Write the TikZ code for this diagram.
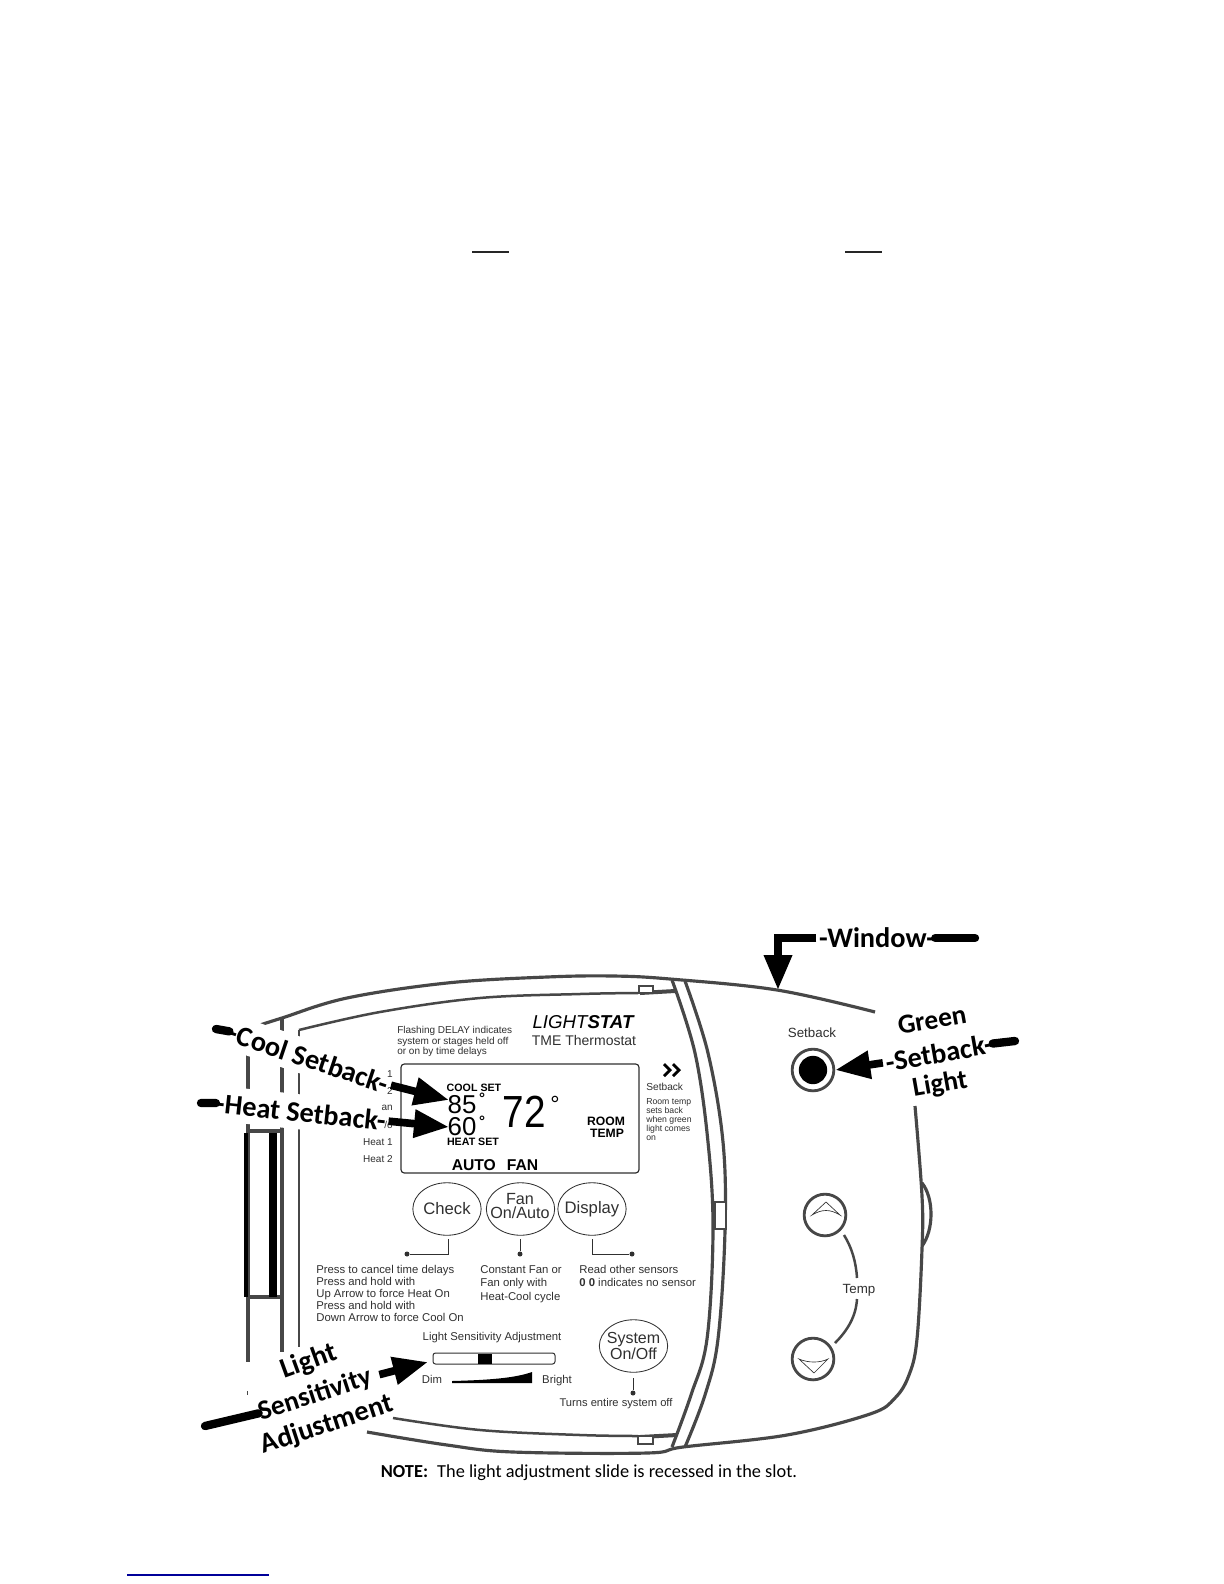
\documentclass[tikz,border=0pt]{standalone}
\usepackage{fontspec}
\setmainfont{Liberation Sans}
\newfontfamily\cali{Carlito}
\usetikzlibrary{shapes.geometric,arrows.meta}
\definecolor{outline}{HTML}{474747}
\definecolor{ink}{HTML}{303030}
\definecolor{linkblue}{HTML}{000099}
\newcommand{\fs}[2]{\fontsize{#1}{#2}\selectfont}
\tikzset{
  shell/.style={draw=outline,line width=1.9pt,line cap=butt},
  thinshell/.style={draw=outline,line width=1.5pt},
  label/.style={inner sep=0pt,text=ink,align=left},
  btn/.style={draw=ink,ellipse,line width=.5pt,inner sep=0pt,minimum width=41pt,minimum height=31.5pt},
  btntext/.style={inner sep=0pt,align=center,text=ink,font=\fs{10}{8.6}},
  roundbtn/.style={draw=outline,circle,line width=1.7pt,inner sep=0pt,minimum size=25pt,fill=white},
  lead/.style={draw=ink,line width=.6pt},
  leaddot/.style={fill=ink,circle,inner sep=0pt,minimum size=3pt},
  callout/.style={inner sep=0pt,fill=white,text=black,font=\cali\bfseries\fs{17}{19},minimum height=21pt},
  pointer/.style={draw=black,line width=4.6pt,shorten <=1.5pt,-{Triangle[length=21pt,width=16pt]}},
  tailbar/.style={draw=black,line width=5pt,line cap=round}
}
\begin{document}
\begin{tikzpicture}[x=0.6pt,y=-0.6pt]
\useasboundingbox (0,0) rectangle (1224,1584);
\fill[white] (0,0) rectangle (1224,1584);
% stray rules
\coordinate (r1a) at (472,252); \coordinate (r1b) at (509,252);
\coordinate (r2a) at (845,252); \coordinate (r2b) at (882,252);
\coordinate (r3a) at (127,1575); \coordinate (r3b) at (269,1575);
\draw[black!85,line width=1.3pt] (r1a)--(r1b) (r2a)--(r2b);
\draw[linkblue,line width=1pt] (r3a)--(r3b);
% housing
\draw[shell] plot[smooth,tension=.6] coordinates {(260,1025)(282,1018)(347,998)(447,983)(547,977)(613,976)(670,979)(777,990)(875,1012)};
\draw[thinshell] plot[smooth,tension=.6] coordinates {(299,1030)(380,1012)(480,998)(580,994)(638,993)};
\draw[outline,line width=2.4pt] (640,993)--(675,991);
\draw[thinshell,fill=white] (639,986) rectangle (653,993);
% dividers
\draw[shell] plot[smooth,tension=.6] coordinates {(672,980)(695,1053)(708,1142)(713,1231)(707,1339)(691,1395)(672,1447)};
\draw[shell] plot[smooth,tension=.6] coordinates {(685,981)(708,1053)(723,1142)(725,1231)(718,1339)(705,1395)(685,1447)};
\draw[thinshell,fill=white] (715,1202) rectangle (726,1229);
% right and bottom
\draw[shell] plot[smooth,tension=.6] coordinates {(915,1106)(922,1196)(922,1249)(917,1339)(909,1375)(895,1398)(870,1414)(787,1435)(683,1447)(647,1453)(513,1452)(447,1445)(367,1432)};
\draw[shell] (922,1183) .. controls (934,1198) and (934,1230) .. (922,1246);
\draw[thinshell] plot[smooth,tension=.6] coordinates {(393,1418)(480,1430)(580,1435)(638,1436)};
\draw[outline,line width=2.4pt] (640,1437)--(677,1435);
\draw[thinshell,fill=white] (638,1436) rectangle (653,1444);
% left rails
\draw[shell] (248,1040)--(248,1362);
\draw[shell] (282,1018)--(282,1352);
\draw[thinshell] (299,1030)--(299,1347);
\draw[shell] (246,1131)--(282,1131) (246,1297)--(282,1297);
\draw[black,line width=2.2pt] (246,1133)--(246,1297);
\draw[black,line width=4.6pt] (273,1133)--(273,1297);
\draw[outline,line width=.5pt] (247,1391)--(247,1395);
% title
\node[label,text=black] (title) at (583,1022) {\fs{11.2}{12}\itshape LIGHT\bfseries STAT};
\node[label] (subtitle) at (584,1040) {\fs{8.4}{9}TME Thermostat};
\node[label,anchor=west,font=\fs{6}{6.4}] (delay) at (397,1041.5) {Flashing DELAY indicates\\system or stages held off\\or on by time delays};
% LCD
\node[draw=ink,line width=.7pt,rounded corners=2pt,minimum width=142.8pt,minimum height=65.4pt,inner sep=0pt] (lcd) at (520,1118.5) {};
\node[label,text=black,font=\bfseries\fs{6.4}{7}] (coolset) at (474,1088) {COOL SET};
\node[label,text=black,font=\bfseries\fs{6.4}{7}] (heatset) at (473,1142) {HEAT SET};
\node[label,text=black,font=\fs{15.5}{16}] (cooltemp) at (462,1105) {85};
\node[label,text=black,font=\fs{15.5}{16}] (heattemp) at (462,1127) {60};
\node[label,text=black,font=\bfseries\fs{9}{9}] (cooldeg) at (482,1098) {°};
\node[label,text=black,font=\bfseries\fs{9}{9}] (heatdeg) at (482,1121) {°};
\node[label,text=black,font=\fs{27}{27},xscale=.86] (roomtemp) at (524,1112) {72};
\node[label,text=black,font=\fs{14}{14}] (roomdeg) at (555,1104) {°};
\node[label,text=black,font=\bfseries\fs{7.3}{7.3}] (room) at (606,1121) {ROOM};
\node[label,text=black,font=\bfseries\fs{7.3}{7.3}] (temp) at (607,1133) {TEMP};
\node[label,text=black,font=\bfseries\fs{9.4}{10}] (autofan) at (495,1165) {AUTO\hspace{.7em}FAN};
% setback note
\draw[black,line width=1.7pt] (664,1064)--(670,1070)--(664,1076);
\draw[black,line width=1.7pt] (673,1064)--(679,1070)--(673,1076);
\node[label,anchor=west,font=\fs{6.1}{7}] (sbshort) at (646,1087) {Setback};
\node[label,anchor=west,font=\fs{5.2}{5.45}] (sbnote) at (646,1119.5) {Room temp\\sets back\\when green\\light comes\\on};
% buttons
\node[btn] (check) at (447,1209) {};
\node[btn] (fan) at (520.5,1209) {};
\node[btn] (display) at (592,1209) {};
\node[btn] (system) at (633.5,1346) {};
\node[btntext] (checkt) at (check) {Check};
\node[btntext,font=\fs{9.7}{8.6}] (fant) at (520,1206) {Fan\\On/Auto};
\node[btntext] (displayt) at (display) {Display};
\node[btntext,font=\fs{9.6}{9.6}] (systemt) at (system) {System\\On/Off};
\node[leaddot] (d1) at (407,1254) {};
\node[leaddot] (d2) at (520,1254) {};
\node[leaddot] (d3) at (632,1254) {};
\node[leaddot] (d4) at (633,1393) {};
\coordinate (s1) at (448,1239); \coordinate (s2) at (520,1239); \coordinate (s3) at (592,1239); \coordinate (s4) at (633,1378);
\draw[lead] (s1)|-(d1);
\draw[lead] (s2)--(d2);
\draw[lead] (s3)|-(d3);
\draw[lead] (s4)--(d4);
\node[label,anchor=west,font=\fs{6.8}{7.2}] (checknote) at (316,1293) {Press to cancel time delays\\Press and hold with\\Up Arrow to force Heat On\\Press and hold with\\Down Arrow to force Cool On};
\node[label,anchor=west,font=\fs{6.8}{8.1}] (fannote) at (480,1284) {Constant Fan or\\Fan only with\\Heat-Cool cycle};
\node[label,anchor=west,font=\fs{6.8}{8.1}] (dispnote) at (579,1276) {Read other sensors\\{\bfseries 0 0} indicates no sensor};
\node[label,font=\fs{6.8}{8}] (lighttitle) at (492,1338) {Light Sensitivity Adjustment};
\node[draw=ink,line width=.6pt,rounded corners=1.5pt,minimum width=73.2pt,minimum height=6.6pt,inner sep=0pt] (slider) at (494,1358.5) {};
\node[fill=black,minimum width=8.4pt,minimum height=6pt,inner sep=0pt] (knob) at (485,1358.5) {};
\node[label,font=\fs{6.8}{8}] (dim) at (432,1379) {Dim};
\node[label,font=\fs{6.8}{8}] (bright) at (557,1380.5) {Bright};
\fill[black] (452,1381) .. controls (490,1380) and (515,1378) .. (532,1372) -- (532,1383) -- (452,1383) -- cycle;
\node[label,font=\fs{6.7}{8}] (turns) at (616,1404) {Turns entire system off};
% right side
\node[label,font=\fs{8}{9}] (setback) at (812,1033) {Setback};
\node[draw=outline,circle,line width=1.7pt,minimum size=25pt,inner sep=0pt] (ring) at (813,1070) {};
\node[fill=black,circle,minimum size=17pt,inner sep=0pt] (led) at (813,1070) {};
\node[roundbtn] (up) at (825,1215) {};
\node[roundbtn] (down) at (813,1359) {};
\draw[ink,line width=.4pt] (812,1215)--(826,1202)--(840,1215) .. controls (830,1209) and (822,1209) .. (812,1215) -- cycle;
\draw[ink,line width=.4pt] (799,1359)--(814,1373)--(828,1359) .. controls (820,1363) and (808,1363) .. (799,1359) -- cycle;
\node[label,font=\fs{8}{9}] (tempword) at (859,1290) {Temp};
\draw[thinshell] (844,1235) .. controls (852,1248) and (856,1262) .. (857,1278);
\draw[thinshell] (857,1299) .. controls (856,1316) and (848,1330) .. (835,1343);
% note
\node[font=\cali\fs{11}{13},text=black,inner sep=0pt] (note) at (589,1473) {{\bfseries NOTE:}\hspace{.5em}The light adjustment slide is recessed in the slot.};
% callouts
\node[callout,rotate=-18.5] (coollab) at (309,1058) {-Cool Setback-};
\node[callout,rotate=-6] (heatlab) at (301,1112) {-Heat Setback-};
\node[font=\cali\bfseries\fs{17}{18},text=black,inner sep=0pt] (windowlab) at (877,938) {-Window-};
\node[font=\cali\bfseries\fs{16.4}{18},text=black,inner sep=0pt,rotate=10] (g1) at (932,1020) {Green};
\node[font=\cali\bfseries\fs{17}{18},text=black,inner sep=0pt,rotate=10] (g2) at (939,1053) {-Setback-};
\node[font=\cali\bfseries\fs{16.4}{18},text=black,inner sep=0pt,rotate=10] (g3) at (940,1085) {Light};
\node[font=\cali\bfseries\fs{17}{18},text=black,inner sep=0pt,rotate=20] (s1lab) at (309,1362) {Light};
\node[font=\cali\bfseries\fs{16.5}{18},text=black,inner sep=0pt,rotate=18] (s2lab) at (315,1395) {Sensitivity};
\node[font=\cali\bfseries\fs{17}{18},text=black,inner sep=0pt,rotate=18] (s3lab) at (327,1425) {Adjustment};
% left list, over the white of the callouts
\node[label,anchor=east,font=\fs{6}{7}] (l1) at (393,1074) {1};
\node[label,anchor=east,font=\fs{6}{7}] (l2) at (393,1091) {2};
\node[label,anchor=east,font=\fs{6}{7}] (l3) at (393,1108) {an};
\node[label,anchor=east,font=\fs{6}{7}] (l4) at (393,1125) {/o};
\node[label,anchor=east,font=\fs{6}{7}] (l5) at (393,1142) {Heat 1};
\node[label,anchor=east,font=\fs{6}{7}] (l6) at (393,1159) {Heat 2};
\coordinate (cooltail) at (216,1029);
\coordinate (cooltip) at (449,1100);
\coordinate (heattail) at (201,1103);
\coordinate (heattip) at (449,1127);
\coordinate (wintip) at (778,990);
\coordinate (wintail) at (975,938);
\coordinate (greentail) at (1015,1041);
\coordinate (lighttail) at (205,1426);
\coordinate (lighttip) at (428,1362);
\draw[tailbar] (cooltail)--(coollab.west);
\draw[pointer] (coollab.east)--(cooltip);
\draw[tailbar] (heattail)--(heatlab.west);
\draw[pointer] (heatlab.east)--(heattip);
\draw[pointer] (windowlab.west)-|(wintip);
\draw[tailbar] (windowlab.east)--(wintail);
\draw[tailbar] (greentail)--(g2.east);
\draw[pointer] (g2.west)--(ring.east);
\draw[tailbar] (lighttail)--(s2lab.west);
\draw[pointer,shorten <=5pt] (s2lab.east)--(lighttip);
\end{tikzpicture}
\end{document}
